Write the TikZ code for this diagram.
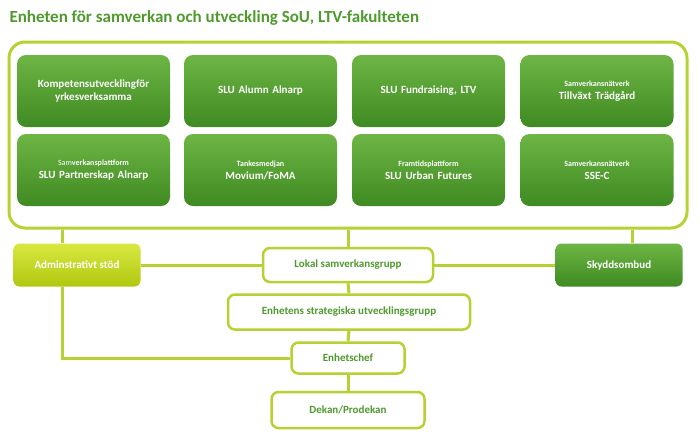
\documentclass[tikz,border=0pt]{standalone}
\usepackage{fontspec}
\setmainfont{Carlito}
\definecolor{lime}{HTML}{B4D232}
\definecolor{gtop}{HTML}{6DB544}
\definecolor{gbot}{HTML}{3F8A22}
\definecolor{gtext}{HTML}{4E9A2C}
\definecolor{atop}{HTML}{D8E840}
\definecolor{abot}{HTML}{B0C810}
\newcommand\smtxt[1]{{\fontsize{8}{9.5}\selectfont #1}}
\begin{document}
\begin{tikzpicture}[x=1pt,y=-1pt,
  gbox/.style={rounded corners=9pt,top color=gtop,bottom color=gbot,draw=none,minimum width=153pt,minimum height=72pt,text=white,font=\bfseries\fontsize{11}{13}\selectfont,align=center,text width=145pt},
  wbox/.style={rounded corners=7pt,draw=lime,line width=2.5pt,fill=white,text=gtext,font=\bfseries\fontsize{11}{13}\selectfont,align=center},
  conn/.style={draw=lime,line width=3pt}]
\useasboundingbox (0,0) rectangle (700,440);
\node[anchor=west,text=gtext,font=\bfseries\fontsize{17}{20}\selectfont] (title) at (6,18) {Enheten för samverkan och utveckling SoU, LTV-fakulteten};
\node[draw=lime,line width=3pt,rounded corners=16pt,minimum width=678pt,minimum height=186pt] (big) at (348,135) {};
\node[gbox] (a1) at (93.5,91) {Kompetensutvecklingför\\yrkesverksamma};
\node[gbox] (a2) at (260.5,91) {SLU Alumn Alnarp};
\node[gbox] (a3) at (428.5,91) {SLU Fundraising, LTV};
\node[gbox] (a4) at (597,91) {\smtxt{Samverkansnätverk}\\Tillväxt Trädgård};
\node[gbox] (b1) at (93.5,170) {\smtxt{\mdseries Sam\bfseries verkansplattform}\\SLU Partnerskap Alnarp};
\node[gbox] (b2) at (260.5,170) {\smtxt{Tankesmedjan}\\Movium/FoMA};
\node[gbox] (b3) at (428.5,170) {\smtxt{Framtidsplattform}\\SLU Urban Futures};
\node[gbox] (b4) at (597,170) {\smtxt{Samverkansnätverk}\\SSE-C};
\node[rounded corners=6pt,top color=atop,bottom color=abot,minimum width=127pt,minimum height=43pt,text=white,font=\bfseries\fontsize{11}{13}\selectfont] (adm) at (77,265) {Adminstrativt stöd};
\node[rounded corners=6pt,top color=gtop,bottom color=gbot,minimum width=127pt,minimum height=43pt,text=white,font=\bfseries\fontsize{11}{13}\selectfont] (sky) at (619,265) {Skyddsombud};
\node[wbox,minimum width=170pt,minimum height=34pt] (lok) at (348,265) {Lokal samverkansgrupp};
\node[wbox,minimum width=242pt,minimum height=35pt] (str) at (349,312) {Enhetens strategiska utvecklingsgrupp};
\node[wbox,minimum width=113pt,minimum height=31pt] (chef) at (348,358) {Enhetschef};
\node[wbox,minimum width=153pt,minimum height=36pt] (dek) at (348,410) {Dekan/Prodekan};
\draw[conn] ([xshift=-15pt]adm.north |- big.south) -- ([xshift=-15pt]adm.north);
\draw[conn] (big.south) -- (lok.north);
\draw[conn] ([xshift=13pt]sky.north |- big.south) -- ([xshift=13pt]sky.north);
\draw[conn] (adm.east) -- (lok.west);
\draw[conn] (lok.east) -- (sky.west);
\draw[conn] (lok.south) -- (str.north);
\draw[conn] (str.south) -- (chef.north);
\draw[conn] (chef.south) -- (dek.north);
\draw[conn] ([xshift=-15pt]adm.south) |- (chef.west);
\end{tikzpicture}
\end{document}
